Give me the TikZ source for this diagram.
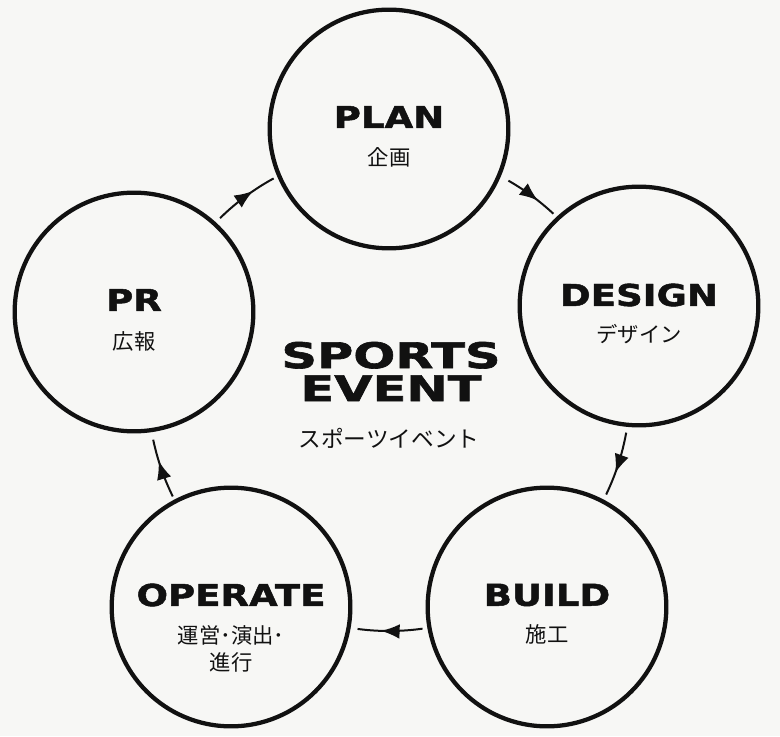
\documentclass[tikz,border=0pt]{standalone}
\usepackage{fontspec}
\usepackage{xcolor}
\usepackage{tikz}
\usetikzlibrary{calc,arrows.meta,decorations.markings}
\newfontfamily\wide[FakeStretch=1.23,FakeBold=1.6]{DejaVu Sans Bold}
\newfontfamily\widebig[FakeStretch=1.4,FakeBold=1.8]{DejaVu Sans Bold}
\newfontfamily\jp{Noto Sans CJK JP}
\definecolor{bg}{HTML}{F7F7F5}
\definecolor{ink}{HTML}{111111}
\tikzset{
  stage/.style={circle, draw=ink, line width=3.2pt, minimum size=179pt, inner sep=0pt},
  ttl/.style={text=ink, inner sep=0pt, font=\wide\fontsize{22.6}{26}\selectfont},
  sub/.style={text=ink, inner sep=0pt, align=center, font=\jp\fontsize{16}{20.25}\selectfont},
  hero/.style={text=ink, inner sep=0pt, align=center, font=\widebig\fontsize{26.5}{24.75}\selectfont},
  flow/.style={draw=ink, line width=1.5pt, postaction={decorate},
    decoration={markings, mark=at position 0.64 with {\arrow{Latex[length=14pt,width=11pt]}}}},
}
\begin{document}
\begin{tikzpicture}[x=0.75pt, y=0.75pt]
  \fill[bg] (0,0) rectangle (780,736);
  \useasboundingbox (0,0) rectangle (780,736);
  \def\R{241}
  \coordinate (O) at (389,346);
  % stages
  \node[stage] (plan) at (389,607) {};
  \node[stage] (design) at (639,430) {};
  \node[stage] (build) at (547,129) {};
  \node[stage] (operate) at (231,129) {};
  \node[stage] (pr) at (134,424) {};
  % labels
  \node[ttl] (plan-t) at ($(plan)+(0,12)$) {PLAN};
  \node[sub] (plan-j) at ($(plan)+(0,-28)$) {企画};
  \node[ttl] (design-t) at ($(design)+(0,11)$) {DESIGN};
  \node[sub] (design-j) at ($(design)+(0,-28)$) {デザイン};
  \node[ttl] (build-t) at ($(build)+(0,12)$) {BUILD};
  \node[sub] (build-j) at ($(build)+(0,-27)$) {施工};
  \node[ttl] (operate-t) at ($(operate)+(0,12)$) {OPERATE};
  \node[sub] (operate-j) at ($(operate)+(0,-42)$) {運営･演出･\\進行};
  \node[ttl] (pr-t) at ($(pr)+(0,12)$) {PR};
  \node[sub] (pr-j) at ($(pr)+(0,-29)$) {広報};
  % center
  \node[hero] (event) at (391,364.5) {SPORTS\\EVENT};
  \node[sub, font=\jp\fontsize{17}{20}\selectfont] (event-j) at (389,298) {スポーツイベント};
  % cycle arrows
  \foreach \s/\e in {60.3/47, -10.2/-25.7, -82/-97.5, 206.2/191.9, 134.5/118.6}
    \draw[flow] ($(O)+(\s:\R)$) arc[start angle=\s, end angle=\e, radius=\R];
\end{tikzpicture}
\end{document}
